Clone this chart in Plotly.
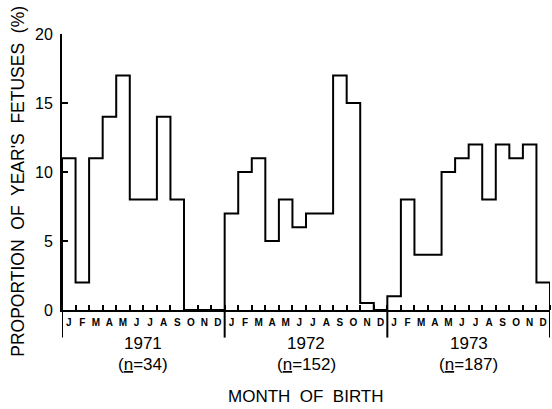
import plotly.graph_objects as go

years = ["1971", "1972", "1973"]
sample_sizes = [34, 152, 187]
month_letters = ["J", "F", "M", "A", "M", "J", "J", "A", "S", "O", "N", "D"]
values_1971 = [11, 2, 11, 14, 17, 8, 8, 14, 8, 0, 0, 0]
values_1972 = [7, 10, 11, 5, 8, 6, 7, 7, 17, 15, 0.5, 0]
values_1973 = [1, 8, 4, 4, 10, 11, 12, 8, 12, 11, 12, 2]
y_ticks = [0, 5, 10, 15, 20]

series = [values_1971, values_1972, values_1973]
FONT = "Liberation Sans"

fig = go.Figure()
for k, vals in enumerate(series):
    off = 12 * k
    xs = [off] + [off + i for i in range(12)] + [off + 12]
    ys = [0] + list(vals) + [0]
    fig.add_trace(go.Scatter(x=xs, y=ys, mode="lines", line_shape="hv",
                             line=dict(color="black", width=2), hoverinfo="skip",
                             showlegend=False))

n_months = 12 * len(years)
centers = [i + 0.5 for i in range(n_months)]
labels = [f"<b>{m}</b>" for m in month_letters] * len(years)

fig.update_layout(
    width=552, height=409,
    margin=dict(l=62, r=2, t=34, b=99),
    paper_bgcolor="white", plot_bgcolor="white",
    font=dict(family=FONT, color="black"),
    xaxis=dict(range=[0, n_months], tickmode="array", tickvals=centers, ticktext=labels,
               ticks="", showgrid=False, zeroline=False, showline=True, linecolor="black",
               linewidth=2, tickfont=dict(size=10, family=FONT), ticklabelstandoff=2,
               minor=dict(tickmode="linear", tick0=0, dtick=1, ticks="inside",
                          ticklen=5, tickwidth=1.5, tickcolor="black", showgrid=False)),
    yaxis=dict(range=[0, 20], tickmode="array", tickvals=y_ticks, ticks="inside",
               ticklen=6, tickwidth=1.5, tickcolor="black", showgrid=False, zeroline=False,
               showline=True, linecolor="black", linewidth=2,
               tickfont=dict(size=16, family=FONT), ticklabelstandoff=4),
)

# year separators extending below the axis
for b in range(len(years) + 1):
    fig.add_shape(type="line", xref="x", yref="paper", x0=12 * b, x1=12 * b,
                  y0=0, y1=-0.1, line=dict(color="black", width=2))

for k, (yr, n) in enumerate(zip(years, sample_sizes)):
    cx = 12 * k + 6
    fig.add_annotation(x=cx, y=-0.12, xref="x", yref="paper", text=yr, showarrow=False,
                       font=dict(size=17, family=FONT), yanchor="middle")
    fig.add_annotation(x=cx, y=-0.196, xref="x", yref="paper",
                       text=f"(<u>n</u>={n})", showarrow=False,
                       font=dict(size=17, family=FONT), yanchor="middle")

fig.add_annotation(x=0.5, y=-0.315, xref="paper", yref="paper", text="MONTH  OF  BIRTH",
                   showarrow=False, font=dict(size=17, family=FONT), yanchor="middle")
fig.add_annotation(x=-0.09, y=0.465, xref="paper", yref="paper",
                   text="PROPORTION  OF  YEAR'S  FETUSES  (%)", textangle=-90,
                   showarrow=False, font=dict(size=17.5, family=FONT),
                   xanchor="center", yanchor="middle")

fig.write_html("out.html", config={"displayModeBar": False},
               post_script="document.body.style.margin='0';")
